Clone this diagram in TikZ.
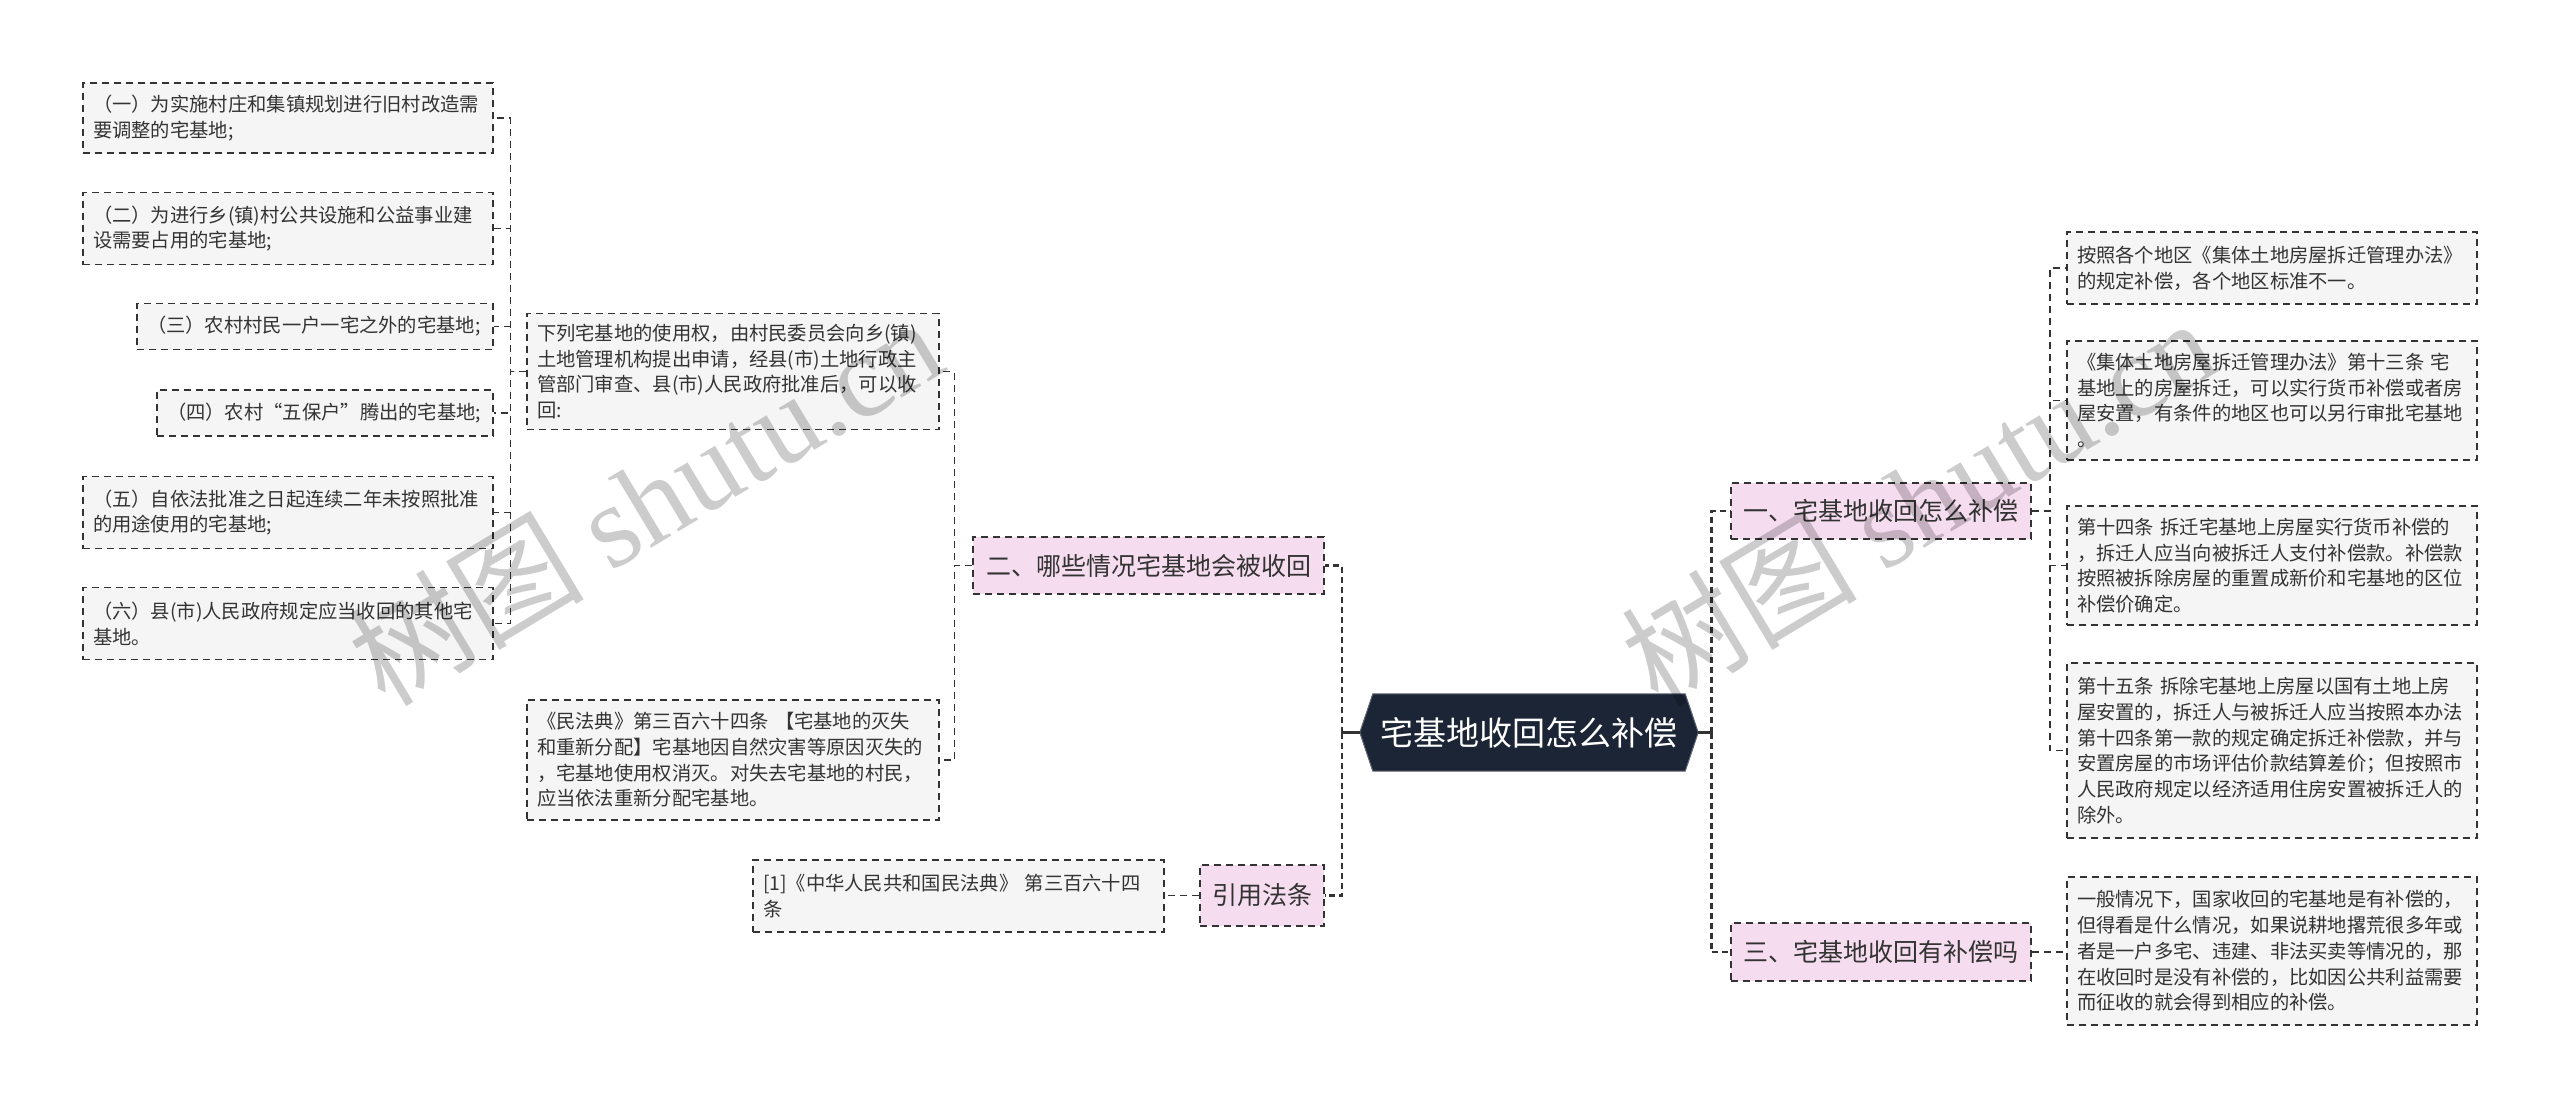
\documentclass[tikz,border=0pt]{standalone}
\usepackage{fontspec}
\setmainfont{Noto Sans CJK SC}
\newfontfamily\wmlatin{Liberation Serif}
\usetikzlibrary{calc,backgrounds}
\definecolor{txt}{HTML}{333333}
\definecolor{bord}{HTML}{333333}
\definecolor{gfill}{HTML}{F5F5F5}
\definecolor{pfill}{HTML}{F5DCEF}
\definecolor{navy}{HTML}{1B2536}
\tikzset{
  leaf/.style={draw=bord, fill=gfill, line width=1.5pt, dash pattern=on 7pt off 5pt,
    text=txt, font=\fontsize{19.3}{25.7}\selectfont, align=left, inner xsep=10pt, inner ysep=0pt},
  topic/.style={draw=bord, fill=pfill, line width=1.5pt, dash pattern=on 7pt off 5pt,
    text=txt, font=\fontsize{25}{30}\selectfont, inner sep=0pt},
  rootnode/.style={inner sep=0pt, text=white, font=\fontsize{33}{40}\selectfont,
    minimum width=338pt, minimum height=77pt},
  conn/.style={draw=bord, line width=1.5pt, dash pattern=on 7pt off 5pt},
  mainconn/.style={draw=bord, line width=2.6pt, dash pattern=on 6pt off 4pt},
  mainsolid/.style={draw=bord, line width=2.6pt},
  wm/.style={text=black, opacity=0.2, font=\fontsize{118}{128}\selectfont, inner sep=0pt}
}
\begin{document}
\begin{tikzpicture}[x=1pt,y=-1pt]
\useasboundingbox (0,0) rectangle (2560,1108);

% root
\node[rootnode] (root) at (1529,732.5) {宅基地收回怎么补偿};
\begin{scope}[on background layer]
\fill[white] (0,0) rectangle (2560,1108);
\filldraw[fill=navy, draw=navy!70!white, line width=1pt] (root.west) -- ([xshift=13pt]root.north west) -- ([xshift=-13pt]root.north east)
  -- (root.east) -- ([xshift=-13pt]root.south east) -- ([xshift=13pt]root.south west) -- cycle;
\end{scope}

% left topics
\node[topic, minimum width=351pt, minimum height=57pt] (er) at (1148.5,565.5) {二、哪些情况宅基地会被收回};
\node[topic, minimum width=124pt, minimum height=61pt] (yy) at (1262,895.5) {引用法条};

% right topics
\node[topic, minimum width=300pt, minimum height=56pt] (yi) at (1881,511) {一、宅基地收回怎么补偿};
\node[topic, minimum width=300pt, minimum height=58pt] (san) at (1881,952) {三、宅基地收回有补偿吗};

% middle-left leaves
\node[leaf, text width=392pt, minimum height=116pt] (m1) at (733,371.5)
  {下列宅基地的使用权，由村民委员会向乡(镇)\\土地管理机构提出申请，经县(市)土地行政主\\管部门审查、县(市)人民政府批准后，可以收\\回:};
\node[leaf, text width=392pt, minimum height=120pt] (m2) at (733,760)
  {《民法典》第三百六十四条 【宅基地的灭失\\和重新分配】宅基地因自然灾害等原因灭失的\\，宅基地使用权消灭。对失去宅基地的村民，\\应当依法重新分配宅基地。};
\node[leaf, text width=391pt, minimum height=72pt] (c1) at (958.5,896)
  {[1]《中华人民共和国民法典》 第三百六十四\\条};

% far-left leaves
\node[leaf, text width=390pt, minimum height=70pt] (l1) at (288,118)
  {（一）为实施村庄和集镇规划进行旧村改造需\\要调整的宅基地;};
\node[leaf, text width=390pt, minimum height=72pt] (l2) at (288,228.6)
  {（二）为进行乡(镇)村公共设施和公益事业建\\设需要占用的宅基地;};
\node[leaf, text width=336pt, minimum height=46pt] (l3) at (315,326.5)
  {（三）农村村民一户一宅之外的宅基地;};
\node[leaf, text width=316pt, minimum height=46pt] (l4) at (325,413)
  {（四）农村“五保户”腾出的宅基地;};
\node[leaf, text width=390pt, minimum height=72pt] (l5) at (288,512.6)
  {（五）自依法批准之日起连续二年未按照批准\\的用途使用的宅基地;};
\node[leaf, text width=390pt, minimum height=72pt] (l6) at (288,623.7)
  {（六）县(市)人民政府规定应当收回的其他宅\\基地。};

% right leaves
\node[leaf, text width=390pt, minimum height=72pt] (r1) at (2272,268)
  {按照各个地区《集体土地房屋拆迁管理办法》\\的规定补偿，各个地区标准不一。};
\node[leaf, text width=390pt, minimum height=119pt] (r2) at (2272,400.5)
  {《集体土地房屋拆迁管理办法》第十三条 宅\\基地上的房屋拆迁，可以实行货币补偿或者房\\屋安置，有条件的地区也可以另行审批宅基地\\。};
\node[leaf, text width=390pt, minimum height=119pt] (r3) at (2272,565.5)
  {第十四条 拆迁宅基地上房屋实行货币补偿的\\，拆迁人应当向被拆迁人支付补偿款。补偿款\\按照被拆除房屋的重置成新价和宅基地的区位\\补偿价确定。};
\node[leaf, text width=390pt, minimum height=175pt] (r4) at (2272,750.5)
  {第十五条 拆除宅基地上房屋以国有土地上房\\屋安置的，拆迁人与被拆迁人应当按照本办法\\第十四条第一款的规定确定拆迁补偿款，并与\\安置房屋的市场评估价款结算差价；但按照市\\人民政府规定以经济适用住房安置被拆迁人的\\除外。};
\node[leaf, text width=390pt, minimum height=148pt] (r5) at (2272,951)
  {一般情况下，国家收回的宅基地是有补偿的，\\但得看是什么情况，如果说耕地撂荒很多年或\\者是一户多宅、违建、非法买卖等情况的，那\\在收回时是没有补偿的，比如因公共利益需要\\而征收的就会得到相应的补偿。};

% connectors from root
\draw[mainsolid] (root.west) -- ++(-18,0);
\draw[mainsolid] (root.east) -- ++(13,0);
\draw[mainconn] (root.west) ++(-18,0) |- (er.east);
\draw[mainconn] (root.west) ++(-18,0) |- (yy.east);
\draw[mainconn] (root.east) ++(13,0) |- (yi.west);
\draw[mainconn] (root.east) ++(13,0) |- (san.west);

% connectors left
\draw[conn] (er.west) -- ++(-18,0) |- (m1.east);
\draw[conn] (er.west) -- ++(-18,0) |- (m2.east);
\foreach \n in {l1,l2,l3,l4,l5,l6}
  \draw[conn] (m1.west) -- ++(-16,0) |- (\n.east);
\draw[conn] (yy.west) -- (yy.west -| c1.east);

% connectors right
\foreach \n in {r1,r2,r3,r4}
  \draw[conn] (yi.east) -- ++(18,0) |- (\n.west);
\draw[conn] (san.east) -- (san.east -| r5.west);

% watermarks
\node[wm, rotate=31] (wm1) at (645,500) {树图 {\wmlatin shutu.cn}};
\node[wm, rotate=31] (wm2) at (1918,500) {树图 {\wmlatin shutu.cn}};
\end{tikzpicture}
\end{document}
